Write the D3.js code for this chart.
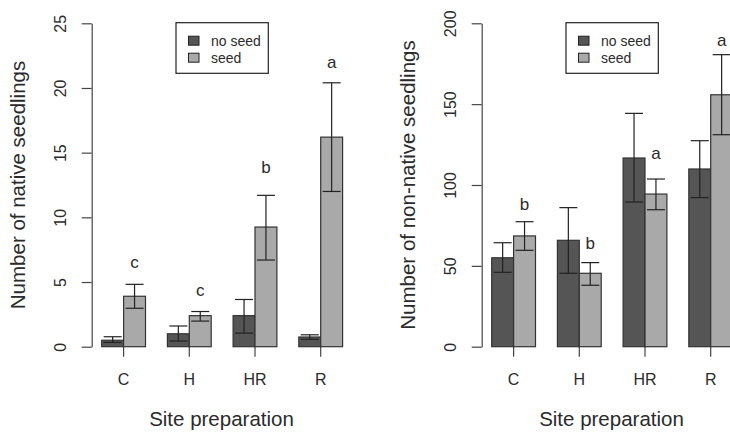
<!DOCTYPE html>
<html>
<head>
<meta charset="utf-8">
<script src="https://cdn.jsdelivr.net/npm/d3@7"></script>
<style>
body { margin: 0; background: #fff; }
svg { display: block; font-family: "Liberation Sans", Arial, sans-serif; }
</style>
</head>
<body>
<div class="diagram"></div>
<script>
// Site preparation treatments and seeding groups
var sites = ['C', 'H', 'HR', 'R'];
var groups = ['no seed', 'seed'];

// Native seedlings: means and error bar ends
var nativeNoSeed = [0.5, 1.0, 2.4, 0.75];
var nativeNoSeedLo = [0.33, 0.44, 1.05, 0.57];
var nativeNoSeedHi = [0.77, 1.6, 3.65, 0.92];
var nativeSeed = [3.9, 2.4, 9.25, 16.2];
var nativeSeedLo = [2.97, 1.98, 6.7, 12.0];
var nativeSeedHi = [4.82, 2.72, 11.7, 20.4];
var nativeLetters = ['c', 'c', 'b', 'a'];
var nativeLetterY = [6.06, 3.92, 13.41, 21.53];
var nativeTicks = [0, 5, 10, 15, 20, 25];

// Non-native seedlings: means and error bar ends
var nonNativeNoSeed = [55, 65.8, 116.7, 109.9];
var nonNativeNoSeedLo = [46, 45.4, 89.5, 92.2];
var nonNativeNoSeedHi = [64.3, 86, 144.3, 127.4];
var nonNativeSeed = [68.5, 45.4, 94.4, 155.8];
var nonNativeSeedLo = [59.6, 38, 84.7, 131.1];
var nonNativeSeedHi = [77.3, 52, 103.7, 180.6];
var nonNativeLetters = ['b', 'b', 'a', 'a'];
var nonNativeLetterY = [84.5, 60.2, 116.1, 186.1];
var nonNativeTicks = [0, 50, 100, 150, 200];

var width = 730;
var height = 432;
var colors = {'no seed': '#555555', 'seed': '#a9a9a9'};
var inkColor = '#2b2b2b';
var axisColor = '#444';

var svg = d3.select(".diagram")
    .append("svg")
    .attr("width", width)
    .attr("height", height);

svg.append("rect")
    .attr("width", width)
    .attr("height", height)
    .attr("fill", "#fff");

// Draws one panel; dx shifts the whole panel to the right
function drawPanel(dx, yTitle, maxY, ticks, noSeed, noSeedLo, noSeedHi, seed, seedLo, seedHi, letters, letterY) {
    var g = svg.append("g").attr("transform", "translate(" + dx + ",0)");
    var axisX = 91.7;
    var top = 23.3, bottom = 346.7;

    var yScale = d3.scaleLinear().domain([0, maxY]).range([bottom, top]);
    var xScale = d3.scaleBand().domain(sites)
        .range([101.7, 342.6])
        .paddingInner(1 / 3)
        .paddingOuter(0);
    var xSub = d3.scaleBand().domain(groups).range([0, xScale.bandwidth()]);

    // one record per bar
    var bars = [];
    sites.forEach(function (s, i) {
        bars.push({site: s, group: 'no seed', v: noSeed[i], lo: noSeedLo[i], hi: noSeedHi[i]});
        bars.push({site: s, group: 'seed', v: seed[i], lo: seedLo[i], hi: seedHi[i]});
    });

    // x axis: ticks only, no line
    var xAxis = g.append("g")
        .attr("transform", "translate(0," + bottom + ")")
        .call(d3.axisBottom(xScale).tickSize(10).tickPadding(17).tickSizeOuter(0));
    xAxis.select(".domain").remove();
    xAxis.selectAll("line").attr("stroke", axisColor).attr("stroke-width", 1.2);
    xAxis.selectAll("text")
        .attr("font-size", 16)
        .attr("font-family", null)
        .attr("fill", inkColor);

    // bars
    g.selectAll(".bar")
        .data(bars)
        .enter()
        .append("rect")
        .attr("class", "bar")
        .attr("x", function (d) { return xScale(d.site) + xSub(d.group); })
        .attr("y", function (d) { return yScale(d.v); })
        .attr("width", xSub.bandwidth())
        .attr("height", function (d) { return yScale(0) - yScale(d.v); })
        .attr("fill", function (d) { return colors[d.group]; })
        .attr("stroke", "#333")
        .attr("stroke-width", 1.2);

    // error bars
    var whisker = 9;
    var err = g.selectAll(".err")
        .data(bars)
        .enter()
        .append("g")
        .attr("class", "err")
        .attr("stroke", "#222")
        .attr("stroke-width", 1.2)
        .attr("transform", function (d) {
            return "translate(" + (xScale(d.site) + xSub(d.group) + xSub.bandwidth() / 2) + ",0)";
        });
    err.append("line")
        .attr("y1", function (d) { return yScale(d.lo); })
        .attr("y2", function (d) { return yScale(d.hi); });
    err.append("line")
        .attr("x1", -whisker).attr("x2", whisker)
        .attr("y1", function (d) { return yScale(d.lo); })
        .attr("y2", function (d) { return yScale(d.lo); });
    err.append("line")
        .attr("x1", -whisker).attr("x2", whisker)
        .attr("y1", function (d) { return yScale(d.hi); })
        .attr("y2", function (d) { return yScale(d.hi); });

    // significance letters above the seed bars
    g.selectAll(".letter")
        .data(letters)
        .enter()
        .append("text")
        .attr("class", "letter")
        .attr("x", function (d, i) { return xScale(sites[i]) + xSub('seed') + xSub.bandwidth() / 2; })
        .attr("y", function (d, i) { return yScale(letterY[i]); })
        .attr("text-anchor", "middle")
        .attr("font-size", 17)
        .attr("fill", inkColor)
        .text(function (d) { return d; });

    // y axis with rotated labels
    var yAxis = g.append("g")
        .attr("transform", "translate(" + axisX + ",0)")
        .call(d3.axisLeft(yScale).tickValues(ticks).tickSize(10).tickSizeOuter(0));
    yAxis.selectAll("line, path").attr("stroke", axisColor).attr("stroke-width", 1.2);
    yAxis.selectAll("text")
        .attr("transform", "rotate(-90)")
        .attr("x", 0)
        .attr("y", -26)
        .attr("dy", 0)
        .attr("text-anchor", "middle")
        .attr("font-size", 16)
        .attr("font-family", null)
        .attr("fill", inkColor);

    // axis titles
    g.append("text")
        .attr("transform", "translate(25,185) rotate(-90)")
        .attr("text-anchor", "middle")
        .attr("font-size", 20.5)
        .attr("fill", inkColor)
        .text(yTitle);
    g.append("text")
        .attr("x", 221.5)
        .attr("y", 426)
        .attr("text-anchor", "middle")
        .attr("font-size", 20.5)
        .attr("fill", inkColor)
        .text("Site preparation");

    // legend
    var legend = g.append("g").attr("transform", "translate(176,22.7)");
    legend.append("rect")
        .attr("width", 92.3)
        .attr("height", 50.6)
        .attr("fill", "#fff")
        .attr("stroke", "#222")
        .attr("stroke-width", 1.2);
    var items = legend.selectAll(".item")
        .data(groups)
        .enter()
        .append("g")
        .attr("class", "item")
        .attr("transform", function (d, i) { return "translate(0," + (13.5 + i * 17) + ")"; });
    items.append("rect")
        .attr("x", 12.5)
        .attr("width", 10.5)
        .attr("height", 9)
        .attr("fill", function (d) { return colors[d]; })
        .attr("stroke", "#222")
        .attr("stroke-width", 1);
    items.append("text")
        .attr("x", 35)
        .attr("y", 9.8)
        .attr("font-size", 14)
        .attr("fill", inkColor)
        .text(function (d) { return d; });
}

drawPanel(0, "Number of native seedlings", 25, nativeTicks,
    nativeNoSeed, nativeNoSeedLo, nativeNoSeedHi,
    nativeSeed, nativeSeedLo, nativeSeedHi, nativeLetters, nativeLetterY);

drawPanel(390, "Number of non-native seedlings", 200, nonNativeTicks,
    nonNativeNoSeed, nonNativeNoSeedLo, nonNativeNoSeedHi,
    nonNativeSeed, nonNativeSeedLo, nonNativeSeedHi, nonNativeLetters, nonNativeLetterY);
</script>
</body>
</html>
